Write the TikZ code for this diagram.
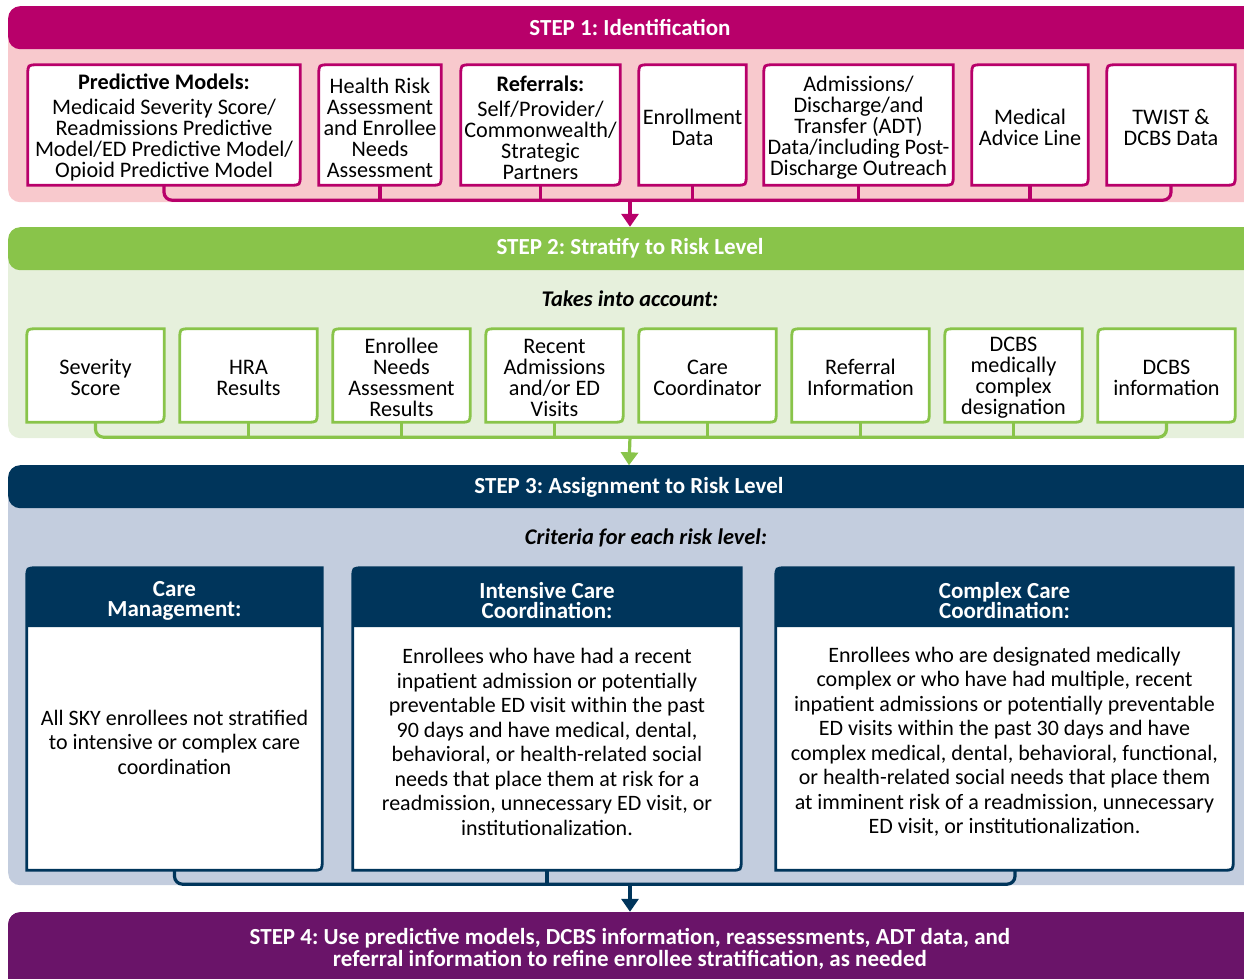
\documentclass[tikz,border=0pt]{standalone}
\usepackage{fontspec}
\setmainfont{Carlito}
\usetikzlibrary{arrows.meta}
\frenchspacing

\definecolor{stepone}{HTML}{B8006A}
\definecolor{steponebg}{HTML}{F8C9CD}
\definecolor{steptwo}{HTML}{89C44A}
\definecolor{steptwobg}{HTML}{E6F0DC}
\definecolor{stepthree}{HTML}{00355B}
\definecolor{stepthreebg}{HTML}{C3CDDE}
\definecolor{stepfour}{HTML}{6A1469}

\pgfdeclarelayer{panels}
\pgfdeclarelayer{cards}
\pgfsetlayers{panels,cards,main}

% card outline: top left and bottom right corners rounded
\newcommand\tabpath[2]{([yshift=-10pt]#1.north west) .. controls (#1.north west) .. ([xshift=10pt]#1.north west) -- (#1.north east) -- ([yshift=10pt]#2.south east) .. controls (#2.south east) .. ([xshift=-10pt]#2.south east) -- (#2.south west) -- cycle}
\newcommand\tabtop[1]{([yshift=-10pt]#1.north west) .. controls (#1.north west) .. ([xshift=10pt]#1.north west) -- (#1.north east) -- (#1.south east) -- (#1.south west) -- cycle}
% strut to push a text block down a little
\newcommand\lift[1]{\rule{0pt}{#1}}

\begin{document}
\begin{tikzpicture}[x=1pt,y=-1pt,>={Triangle[width=17pt,length=13pt]},
  panel/.style n args={3}{anchor=north west,minimum width=1248pt,minimum height=#1,
    rounded corners=12pt,fill=#2,inner sep=0pt,
    path picture={\fill[#3] (path picture bounding box.north west) rectangle
      ([yshift=-43pt]path picture bounding box.north east);}},
  head/.style={text=white,font=\bfseries\fontsize{23}{22}\selectfont,minimum height=43pt,inner sep=0pt,align=center},
  sub/.style={inner sep=0pt,font=\bfseries\itshape\fontsize{22.4}{22}\selectfont},
  idbox/.style={align=center,minimum height=120pt,inner sep=0pt,font=\fontsize{22.2}{21}\selectfont},
  riskbox/.style={align=center,minimum width=137pt,minimum height=93pt,inner sep=0pt,font=\fontsize{22.2}{21}\selectfont},
  levelhead/.style={align=center,minimum height=59pt,inner sep=0pt,text=white,font=\bfseries\fontsize{23}{19.5}\selectfont},
  levelbody/.style={align=center,minimum height=256pt,inner sep=0pt,font=\fontsize{22}{24.5}\selectfont},
  onecard/.style={draw=stepone,fill=white,line width=2.8pt},
  twocard/.style={draw=steptwo,fill=white,line width=2.8pt},
  threecard/.style={draw=stepthree,line width=2.8pt},
  onebus/.style={draw=stepone,line width=3.2pt,rounded corners=8pt},
  twobus/.style={draw=steptwo,line width=3.2pt,rounded corners=8pt},
  threebus/.style={draw=stepthree,line width=3.2pt,rounded corners=8pt}]
\useasboundingbox (0,0) rectangle (1244,978);

\begin{pgfonlayer}{panels}
\node (p1) at (8,6)   [panel={196pt}{steponebg}{stepone}] {};
\node (p2) at (8,227) [panel={211pt}{steptwobg}{steptwo}] {};
\node (p3) at (8,465) [panel={420pt}{stepthreebg}{stepthree}] {};
\node (p4) at (8,912) [panel={90pt}{stepfour}{stepfour}] {};
\end{pgfonlayer}

% step headers
\node (h1) at (630,27.5)  [head] {STEP 1: Identification};
\node (h2) at (630,248.5) [head] {STEP 2: Stratify to Risk Level};
\node (h3) at (629,487)   [head] {STEP 3: Assignment to Risk Level};
\node (h4) at (630,949)   [head,minimum height=74pt] {STEP 4: Use predictive models, DCBS information, reassessments, ADT data, and\\referral information to refine enrollee stratification, as needed};
\node (t2) at (630,299) [sub] {Takes into account:};
\node (t3) at (646,538) [sub] {Criteria for each risk level:};

% step 1
\node (pm)    at (164,125)   [idbox,minimum width=272pt] {\lift{21pt}\textbf{Predictive Models:}\\[4pt]Medicaid Severity Score/\\Readmissions Predictive\\Model/ED Predictive Model/\\Opioid Predictive Model};
\node (hra)   at (380,125)   [idbox,minimum width=122pt] {\lift{21pt}Health Risk\\Assessment\\and Enrollee\\Needs\\Assessment};
\node (ref)   at (540.5,125) [idbox,minimum width=159pt] {\lift{21pt}\textbf{Referrals:}\\[4pt]Self/Provider/\\Commonwealth/\\Strategic\\Partners};
\node (enr)   at (692.5,125) [idbox,minimum width=107pt] {\lift{21pt}Enrollment\\Data};
\node (adt)   at (858.5,125) [idbox,minimum width=189pt] {\lift{21pt}Admissions/\\Discharge/and\\Transfer (ADT)\\Data/including Post-\\Discharge Outreach};
\node (mal)   at (1030,125)  [idbox,minimum width=116pt] {\lift{21pt}Medical\\Advice Line};
\node (twist) at (1171,125)  [idbox,minimum width=128pt] {\lift{21pt}TWIST \&\\DCBS Data};

% step 2
\node (sev) at (95.5,375.5)   [riskbox] {\lift{19pt}Severity\\Score};
\node (hrr) at (248.5,375.5)  [riskbox] {\lift{19pt}HRA\\Results};
\node (ena) at (401.5,375.5)  [riskbox] {\lift{19pt}Enrollee\\Needs\\Assessment\\Results};
\node (rad) at (554.5,375.5)  [riskbox] {\lift{19pt}Recent\\Admissions\\and/or ED\\Visits};
\node (cco) at (707.5,375.5)  [riskbox] {\lift{19pt}Care\\Coordinator};
\node (rfi) at (860.5,375.5)  [riskbox] {\lift{19pt}Referral\\Information};
\node (dmc) at (1013.5,375.5) [riskbox] {\lift{19pt}DCBS\\medically\\complex\\designation};
\node (dci) at (1166.5,375.5) [riskbox] {\lift{19pt}DCBS\\information};

% step 3
\node (cmh) at (174.5,597.5)  [levelhead,minimum width=295pt] {\lift{22pt}Care\\Management:};
\node (cmb) at (174.5,742)    [levelbody,minimum width=295pt] {All SKY enrollees not stratified\\to intensive or complex care\\coordination};
\node (ich) at (547,597.5)    [levelhead,minimum width=388pt] {\lift{22pt}Intensive Care\\Coordination:};
\node (icb) at (547,742)      [levelbody,minimum width=388pt] {Enrollees who have had a recent\\inpatient admission or potentially\\preventable ED visit within the past\\90 days and have medical, dental,\\behavioral, or health-related social\\needs that place them at risk for a\\readmission, unnecessary ED visit, or\\institutionalization.};
\node (cch) at (1004.5,597.5) [levelhead,minimum width=457pt] {\lift{22pt}Complex Care\\Coordination:};
\node (ccb) at (1004.5,742)   [levelbody,minimum width=457pt] {Enrollees who are designated medically\\complex or who have had multiple, recent\\inpatient admissions or potentially preventable\\ED visits within the past 30 days and have\\complex medical, dental, behavioral, functional,\\or health-related social needs that place them\\at imminent risk of a readmission, unnecessary\\ED visit, or institutionalization.};

\begin{pgfonlayer}{cards}
\foreach \n in {pm,hra,ref,enr,adt,mal,twist}
  \filldraw[onecard] \tabpath{\n}{\n};
\foreach \n in {sev,hrr,ena,rad,cco,rfi,dmc,dci}
  \filldraw[twocard] \tabpath{\n}{\n};
\foreach \h/\b in {cmh/cmb,ich/icb,cch/ccb} {
  \fill[white] \tabpath{\h}{\b};
  \fill[stepthree] \tabtop{\h};
  \draw[threecard] \tabpath{\h}{\b};
}
\end{pgfonlayer}

% buses and arrows
\draw[onebus] (pm.south) -- ++(0,15) -| (twist.south);
\foreach \n in {hra,ref,enr,adt,mal}
  \draw[onebus] (\n.south) -- ++(0,15);
\coordinate (j1) at (630,200);
\draw[onebus,->] (j1) -- (h2.north);

\draw[twobus] (sev.south) -- ++(0,15) -| (dci.south);
\foreach \n in {hrr,ena,rad,cco,rfi,dmc}
  \draw[twobus] (\n.south) -- ++(0,15);
\coordinate (j2) at (630,437);
\draw[twobus,->] (j2) -- (h3.north);

\draw[threebus] (cmb.south) -- ++(0,14) -| ([xshift=10.5pt]ccb.south);
\draw[threebus] (icb.south) -- ++(0,14);
\coordinate (j3) at (630,884);
\draw[threebus,->] (j3) -- (h4.north);
\end{tikzpicture}
\end{document}
